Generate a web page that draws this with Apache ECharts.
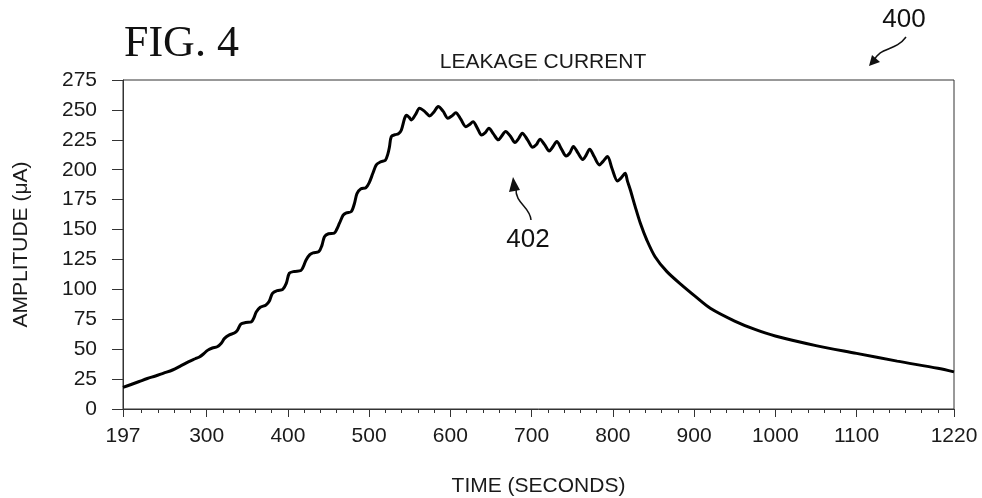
<!DOCTYPE html>
<html>
<head>
<meta charset="utf-8">
<script src="https://cdn.jsdelivr.net/npm/echarts@6/dist/echarts.min.js"></script>
<style>
html,body{margin:0;padding:0;background:#fff;}
#chart{width:982px;height:498px;}
</style>
</head>
<body>
<div id="chart"></div>
<script>
// Time (seconds) and leakage current amplitude (µA)
const times = [197,207,217,227,237,247,258,268,278,286,291,296,301,307,313,318,322,328,334,338,342,348,355,358,361,366,373,377,381,387,393.6,398,401.8,408,416,419,422.4,427,431,438,442,445,450,457,460,463.5,468,472,478,482,485,490,496,500,504.6,508.8,514,520,523,525,527.3,532,536,539.6,543.7,546,549,552,557,562,568,574.6,580,585,591,597,602,606.7,613,619,623,628,633,638.4,643,647.4,653,659,663,668,674,679.5,684,688.5,695,701.3,706,710.3,716,721.8,726,731,737,742.5,747,751.5,757,763,767,771.5,777,783.5,788,793.4,799,805.7,810,815.2,818,821.4,827.6,834,842,852,866.6,887,900,920,950,975,1000,1050,1100,1150,1200,1220];
const amps = [18,20.5,23,25.5,27.6,30,32.6,36,39.6,42,43.5,46,49,51,52,55,59,62,63.5,66,71,72.3,72.8,76,81,85,87,90,96.7,99,100,105,113.5,115,115.8,119,124.6,129,130.5,131.5,137,144,146.5,147,150,155.3,162,164,165,172,180,184,185,189,197,204,206.5,208,213,219,227.7,229.3,230,233,243,245.5,244,241.6,246,251.4,249,245,248.5,252.8,249,243,245,247.7,242,236,237.5,240,235,229,231,234.7,230,225,228,232,228,222.7,226,230.5,225,218.8,221,225.5,221,215.7,219,223.5,217,211.5,214,219.5,214,208.5,212,217.2,211,204,207,211,201,190.6,193,197,190.5,183.5,169,155,141,127.3,114.8,102.3,95,84.2,73.5,66.5,61,53,46.5,40,34,31];
const xMajorTicks = [197,300,400,500,600,700,800,900,1000,1100,1220];
const xMinorTicks = [220,240,260,280,320,340,360,380,420,440,460,480,520,540,560,580,620,640,660,680,720,740,760,780,820,840,860,880,920,940,960,980,1020,1040,1060,1080,1120,1140,1160,1180,1200];
const yTicks = [0,25,50,75,100,125,150,175,200,225,250,275];

const seriesData = times.map((t, i) => [t, amps[i]]);
const FONT = '"Liberation Sans", Arial, sans-serif';
const INK = '#1a1a1a';
const FRAME = '#333';

const chart = echarts.init(document.getElementById('chart'));
chart.setOption({
  animation: false,
  backgroundColor: '#fff',
  title: {
    text: 'LEAKAGE CURRENT',
    left: 538,
    textAlign: 'center',
    top: 47,
    textStyle: {fontFamily: FONT, fontSize: 21, fontWeight: 'normal', color: INK}
  },
  grid: {left: 123, right: 28, top: 80, bottom: 89, show: true, borderColor: FRAME, borderWidth: 1, outerBoundsMode: 'none', containLabel: false},
  xAxis: [{
    type: 'value', min: 197, max: 1220,
    name: 'TIME (SECONDS)', nameLocation: 'middle', nameGap: 67,
    nameTextStyle: {fontFamily: FONT, fontSize: 21, color: INK},
    axisLine: {lineStyle: {color: FRAME, width: 1}},
    axisTick: {show: true, customValues: xMajorTicks, length: 8, lineStyle: {color: FRAME}},
    axisLabel: {customValues: xMajorTicks, formatter: v => String(v), fontFamily: FONT, fontSize: 21, color: INK, margin: 17},
    splitLine: {show: false}
  }, {
    type: 'value', min: 197, max: 1220, position: 'bottom',
    axisLine: {show: false},
    axisTick: {show: true, customValues: xMinorTicks, length: 4, lineStyle: {color: FRAME}},
    axisLabel: {show: false},
    splitLine: {show: false}
  }],
  yAxis: {
    type: 'value', min: 0, max: 275, interval: 25,
    name: 'AMPLITUDE (\u03bcA)', nameLocation: 'middle', nameGap: 91,
    nameTextStyle: {fontFamily: FONT, fontSize: 21, color: INK},
    axisLine: {show: true, lineStyle: {color: FRAME, width: 1}},
    axisTick: {show: true, length: 11, lineStyle: {color: FRAME}},
    axisLabel: {customValues: yTicks, formatter: v => String(v), fontFamily: FONT, fontSize: 21, color: INK, margin: 26},
    splitLine: {show: false}
  },
  series: [{
    type: 'line',
    data: seriesData,
    showSymbol: false,
    smooth: 0.3,
    lineStyle: {color: '#000', width: 3},
    z: 3
  }],
  graphic: [
    {type: 'text', left: 124, top: 22, style: {text: 'FIG. 4', font: '44px "Liberation Serif", "Times New Roman", serif', fill: '#111'}},
    {type: 'text', x: 904, y: 20, style: {text: '400', font: '26px "Liberation Sans", Arial, sans-serif', fill: '#111', align: 'center', verticalAlign: 'middle'}},
    {type: 'bezierCurve', shape: {x1: 906, y1: 37, x2: 873, y2: 62, cpx1: 895, cpy1: 52, cpx2: 880, cpy2: 46}, style: {stroke: '#111', lineWidth: 1.5, fill: null}},
    {type: 'polygon', shape: {points: [[869, 66], [872, 55], [880, 62]]}, style: {fill: '#111'}},
    {type: 'text', x: 528, y: 240, style: {text: '402', font: '26px "Liberation Sans", Arial, sans-serif', fill: '#111', align: 'center', verticalAlign: 'middle'}},
    {type: 'bezierCurve', shape: {x1: 531, y1: 220, x2: 516, y2: 188, cpx1: 530, cpy1: 206, cpx2: 515, cpy2: 204}, style: {stroke: '#111', lineWidth: 1.5, fill: null}},
    {type: 'polygon', shape: {points: [[513, 177], [509, 192], [520, 190]]}, style: {fill: '#111'}}
  ]
});
</script>
</body>
</html>
